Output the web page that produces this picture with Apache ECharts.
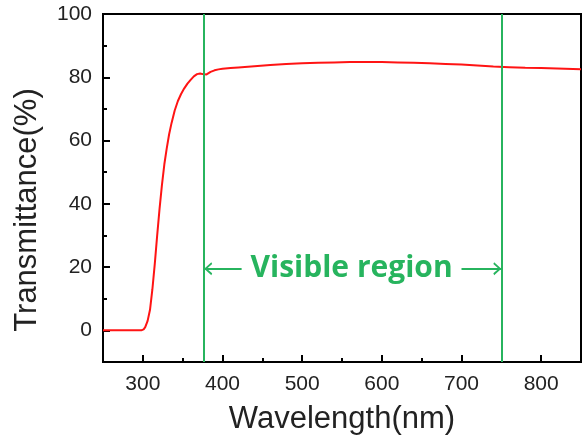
<!DOCTYPE html>
<html>
<head>
<meta charset="utf-8">
<script src="https://cdn.jsdelivr.net/npm/echarts@6/dist/echarts.min.js"></script>
<style>
html,body{margin:0;padding:0;background:#fff;}
#main{width:587px;height:445px;}
</style>
</head>
<body>
<div id="main"></div>
<script>
// transmittance spectrum, values
var wavelength = [250,260,270,280,290,298,301,303,306,309,312,315,318,321,324,327,330,333,336,340,344,348,352,356,360,364,368,372,375,377,380,385,390,395,400,410,420,440,460,480,500,520,540,560,580,600,620,640,660,680,700,720,740,760,780,800,820,840,850];
var transmittance = [0,0,0,0,0,0,0.3,1,3,6.5,13,21,30,38.5,46,52.5,57.5,62,65.5,69.5,72.5,74.7,76.5,78,79.2,80.3,81,81.2,81,80.6,80.9,81.7,82.2,82.5,82.7,82.9,83.1,83.5,83.9,84.2,84.4,84.6,84.7,84.8,84.8,84.8,84.7,84.6,84.4,84.2,84,83.7,83.4,83.2,83,82.9,82.8,82.6,82.5];
var xMajor = [300,400,500,600,700,800];
var xMinor = [350,450,550,650,750];
var yMajor = [0,20,40,60,80,100];
var yMinor = [10,30,50,70,90];
var visibleBounds = [377, 750];
var arrowY = 19.5;

var RED = "#ff1414", GREEN = "#27b45e", INK = "#222";
var FONT = "Liberation Sans";

var ch = echarts.init(document.getElementById("main"), null, {renderer:"canvas"});
var pts = wavelength.map(function(w,i){ return [w, transmittance[i]]; });

function baseX(show){
  return {
    type:"value", min:250, max:850, position:"bottom",
    axisLine:{show:show, onZero:false, lineStyle:{color:"#000", width:2}},
    splitLine:{show:false}
  };
}
function baseY(show){
  return {
    type:"value", min:-10, max:100, position:"left",
    axisLine:{show:show, onZero:false, lineStyle:{color:"#000", width:2}},
    splitLine:{show:false}
  };
}
var x0 = baseX(true);
x0.axisTick = {show:true, inside:true, length:7, customValues:xMajor, lineStyle:{color:"#000", width:2}};
x0.axisLabel = {show:true, customValues:xMajor, color:INK, fontFamily:FONT, fontSize:21, margin:12};
x0.name = "Wavelength(nm)";
x0.nameLocation = "middle";
x0.nameGap = 42;
x0.nameTextStyle = {color:INK, fontFamily:FONT, fontSize:31};
var x1 = baseX(false);
x1.axisTick = {show:true, inside:true, length:4, customValues:xMinor, lineStyle:{color:"#000", width:2}};
x1.axisLabel = {show:false};

var y0 = baseY(true);
y0.axisTick = {show:true, inside:true, length:7, customValues:yMajor, lineStyle:{color:"#000", width:2}};
y0.axisLabel = {show:true, customValues:yMajor, color:INK, fontFamily:FONT, fontSize:21, margin:11};
y0.name = "Transmittance(%)";
y0.nameLocation = "middle";
y0.nameGap = 60;
y0.nameTextStyle = {color:INK, fontFamily:FONT, fontSize:31, padding:[0,44,0,0]};
var y1 = baseY(false);
y1.axisTick = {show:true, inside:true, length:4, customValues:yMinor, lineStyle:{color:"#000", width:2}};
y1.axisLabel = {show:false};

var chevron = "path://M5,0 L10,7 L8.6,7.8 L5,2.6 L1.4,7.8 L0,7 Z";

ch.setOption({
  animation:false,
  backgroundColor:"#fff",
  grid:{left:103, right:6, top:14, bottom:83, show:true, borderColor:"#000", borderWidth:2, backgroundColor:"transparent"},
  xAxis:[x0, x1],
  yAxis:[y0, y1],
  series:[
    { type:"line", data:pts, showSymbol:false, symbol:"none", smooth:false,
      lineStyle:{color:RED, width:2}, z:3,
      markLine:{ silent:true, symbol:["none","none"], animation:false,
        lineStyle:{color:GREEN, width:2, type:"solid"}, label:{show:false},
        data:visibleBounds.map(function(v){ return {xAxis:v}; }) }
    },
    { type:"line", data:[], z:4,
      markLine:{ silent:true, animation:false, symbol:[chevron,"none"], symbolSize:[13,8], symbolOffset:[[0,4],[0,4]],
        lineStyle:{color:GREEN, width:2, type:"solid"}, label:{show:false},
        data:[[{coord:[visibleBounds[0], arrowY]},{coord:[424, arrowY]}]] },
      markPoint:{ silent:true, animation:false, symbol:"circle", symbolSize:0,
        label:{show:true, position:"inside", formatter:"Visible region", color:GREEN,
          fontFamily:"Open Sans", fontWeight:"bold", fontSize:30},
        data:[{coord:[562, arrowY]}] }
    },
    { type:"line", data:[], z:4,
      markLine:{ silent:true, animation:false, symbol:["none",chevron], symbolSize:[13,8], symbolOffset:[[0,4],[0,4]],
        lineStyle:{color:GREEN, width:2, type:"solid"}, label:{show:false},
        data:[[{coord:[700, arrowY]},{coord:[visibleBounds[1], arrowY]}]] }
    }
  ]
});
</script>
</body>
</html>
